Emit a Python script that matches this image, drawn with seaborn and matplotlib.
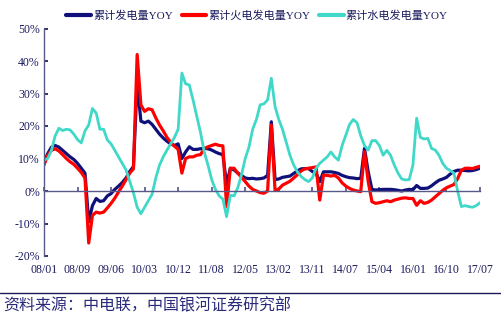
import numpy as np
import pandas as pd
import matplotlib
matplotlib.use("Agg")
import matplotlib.pyplot as plt
from matplotlib.lines import Line2D
import seaborn as sns

# ---- data (YoY %, category index along x) ----
tick_labels = ["08/01", "08/09", "09/06", "10/03", "10/12", "11/08", "12/05",
               "13/02", "13/11", "14/07", "15/04", "16/01", "16/10", "17/07"]

total = [9.0, 11.5, 13.5, 14.0, 13.5, 12.5, 11.5, 10.5, 9.7, 8.5,
         7.0, 5.5, -9.5, -4.5, -2.3, -3.2, -3.0, -1.5, -0.8, 0.5,
         1.5, 2.6, 4.0, 6.0, 7.5, 33.5, 21.5, 21.0, 21.5, 20.5,
         19.0, 17.5, 16.3, 15.3, 14.5, 14.0, 14.5, 10.0, 12.0, 13.6,
         12.8, 12.8, 13.0, 13.1, 13.0, 12.6, 12.0, 11.5, 11.2, 2.0,
         7.0, 6.5, 5.5, 4.8, 4.0, 3.8, 3.9, 3.7, 3.8, 4.0,
         4.8, 21.3, 3.5, 3.7, 4.2, 4.4, 4.6, 5.4, 6.2, 6.8,
         6.9, 6.9, 6.0, 5.5, 2.9, 5.9, 5.9, 5.9, 5.7, 5.4,
         4.8, 4.4, 4.1, 4.0, 3.8, 3.9, 13.1, 5.9, 0.5, 0.3,
         0.4, 0.5, 0.5, 0.5, 0.4, 0.2, 0.0, 0.3, 0.5, 0.4,
         1.7, 0.8, 0.8, 0.9, 1.6, 2.5, 3.3, 3.7, 4.2, 5.2,
         6.0, 6.4, 6.4, 6.3, 6.2, 6.3, 6.6, 7.0]

thermal = [8.0, 11.0, 12.5, 13.0, 12.3, 11.2, 10.0, 9.0, 8.2, 7.0,
           5.7, 4.0, -16.0, -7.5, -6.5, -6.8, -6.5, -5.2, -3.8, -2.2,
           -0.3, 1.5, 3.5, 5.5, 6.8, 42.0, 26.5, 24.5, 25.3, 25.0,
           22.5, 20.3, 18.5, 16.5, 15.0, 13.8, 12.8, 5.5, 10.0, 10.5,
           10.5, 11.0, 11.2, 13.0, 13.6, 14.0, 14.4, 14.0, 13.9, -4.8,
           7.0, 7.0, 5.5, 4.2, 2.9, 1.5, 0.5, 0.0, -0.5, -0.7,
           0.0, 20.3, 0.2, 0.6, 1.8, 2.4, 3.0, 4.0, 5.0, 6.2,
           6.8, 7.0, 7.2, 7.4, -2.8, 4.9, 4.8, 4.6, 4.8, 4.0,
           2.5, 1.5, 0.8, 0.3, 0.0, -0.2, 12.1, 2.9, -3.3, -3.8,
           -3.6, -3.3, -3.0, -3.3, -2.8, -2.5, -2.2, -2.1, -2.3, -2.3,
           -4.4, -3.0, -3.8, -3.5, -2.8, -1.8, -0.8, 0.2, 1.0, 1.5,
           2.0, 3.8, 6.4, 7.0, 7.0, 6.9, 7.3, 7.6]

hydro = [9.5, 10.0, 12.5, 17.0, 19.3, 18.6, 19.0, 18.8, 17.5, 15.8,
         14.8, 18.5, 20.3, 25.4, 24.0, 19.0, 19.0, 15.7, 14.5, 12.5,
         10.5, 8.5, 6.5, 3.0, -0.5, -5.0, -7.0, -5.0, -3.0, -1.0,
         4.0, 8.0, 10.5, 12.6, 14.5, 16.5, 19.0, 36.3, 33.0, 32.6,
         28.0, 23.0, 18.0, 12.0, 8.0, 3.5, 0.5, -1.5, -2.5, -7.9,
         -1.3, -1.5, 1.0, 5.0, 10.0, 13.5, 19.0, 22.0, 26.5, 26.8,
         28.0, 34.7, 26.0, 22.0, 19.0, 15.0, 11.0, 8.0, 5.9, 4.5,
         3.5, 2.9, 4.0, 7.0, 8.5, 9.5, 10.5, 12.0, 10.5, 9.5,
         14.0, 17.2, 20.5, 22.0, 21.0, 17.0, 14.0, 12.6, 15.5, 15.5,
         14.0, 11.0, 12.5, 11.0, 8.0, 5.5, 3.7, 3.4, 3.5, 8.0,
         22.4, 16.5, 16.0, 16.2, 13.1, 12.6, 11.0, 8.5, 7.0, 6.3,
         5.5, 0.0, -4.8, -4.5, -4.8, -5.0, -4.5, -3.6]

series_names = ["累计发电量YOY", "累计火电发电量YOY", "累计水电发电量YOY"]
colors = ["#10107A", "#FF0000", "#40D8C8"]

n = len(total)
idx = np.arange(n)
df = pd.concat([
    pd.DataFrame({"idx": idx, "value": total, "series": series_names[0]}),
    pd.DataFrame({"idx": idx, "value": thermal, "series": series_names[1]}),
    pd.DataFrame({"idx": idx, "value": hydro, "series": series_names[2]}),
], ignore_index=True)

sns.set_theme(style="white")
plt.rcParams["font.family"] = ["Liberation Serif", "Noto Sans CJK SC", "DejaVu Sans"]
text_color = "#1A1A5E"

fig = plt.figure(figsize=(5.01, 3.22), dpi=100)
ax = fig.add_axes([44 / 501, 1 - 256 / 322, (480 - 44) / 501, (256 - 28.5) / 322])

sns.lineplot(data=df, x="idx", y="value", hue="series",
             palette=dict(zip(series_names, colors)), ax=ax, linewidth=2.3,
             legend=False)
for line, c in zip(ax.get_lines(), colors):
    if c == colors[2]:
        line.set_linewidth(2.0)

ax.set_xlim(0, n - 1)
ax.set_ylim(-20, 50)
ax.set_xlabel("")
ax.set_ylabel("")

# y axis
yt = np.arange(-20, 51, 10)
ax.set_yticks(yt)
ax.set_yticklabels([f"{v}%" for v in yt], color=text_color, fontsize=8.5)
ax.tick_params(axis="y", direction="in", length=3, color=text_color, pad=3, left=True)

# x axis at zero
tick_pos = np.arange(0, n, 9)
ax.spines["bottom"].set_position(("data", 0))
ax.spines["bottom"].set_color("#5A5A8A")
ax.spines["bottom"].set_linewidth(1.0)
ax.spines["left"].set_color("#5A5A8A")
ax.spines["left"].set_linewidth(1.0)
ax.spines["top"].set_visible(False)
ax.spines["right"].set_visible(False)
ax.set_xticks(tick_pos)
ax.set_xticklabels([])
ax.tick_params(axis="x", direction="in", length=3, color="#5A5A8A", bottom=True)

sec = ax.secondary_xaxis(0)
sec.set_xticks(tick_pos)
sec.set_xticklabels(tick_labels, color=text_color, fontsize=8.5)
sec.tick_params(length=0, pad=6)
sec.spines["bottom"].set_visible(False)

# legend
handles = [Line2D([0], [0], color=c, lw=3.0) for c in colors]
leg = fig.legend(handles, series_names, loc="center", ncol=3,
                 bbox_to_anchor=(0.513, 0.952), frameon=False,
                 fontsize=8, handlelength=2.2, handletextpad=0.2,
                 columnspacing=0.8)
for t in leg.get_texts():
    t.set_color(text_color)

# footer
fig.add_artist(Line2D([0, 1], [1 - 293 / 322, 1 - 293 / 322],
                      transform=fig.transFigure, color="#1A1A5E", lw=1.0))
fig.text(0.006, 1 - 306 / 322, "资料来源：中电联，中国银河证券研究部",
         fontsize=11.5, color="#2A2A7A", va="center", ha="left",
         family=["Noto Sans CJK SC"], style="italic")

fig.savefig("out.png", dpi=100)
